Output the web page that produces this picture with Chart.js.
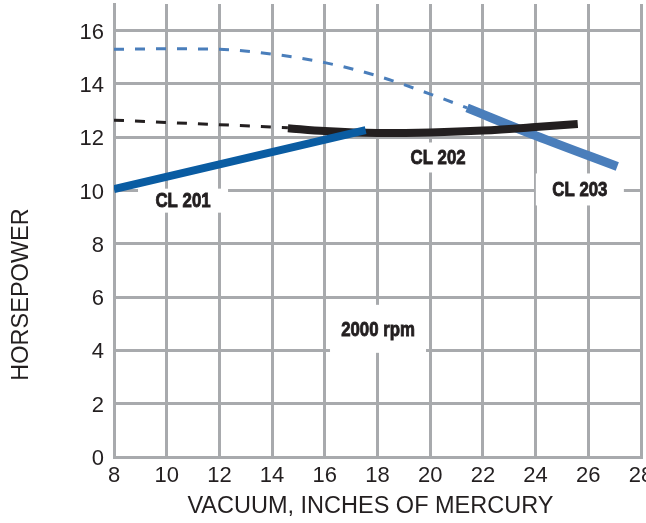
<!DOCTYPE html>
<html>
<head>
<meta charset="utf-8">
<script src="https://cdn.jsdelivr.net/npm/chart.js@4"></script>
<style>
html, body { margin: 0; padding: 0; background: #fff; }
</style>
</head>
<body>
<canvas id="c" width="646" height="523"></canvas>
<script>
var xTicks = [8, 10, 12, 14, 16, 18, 20, 22, 24, 26, 28]
var yTicks = [0, 2, 4, 6, 8, 10, 12, 14, 16]

// CL 201
var cl201X = [8, 17.55]
var cl201Y = [10.05, 12.27]

// CL 202 (solid part and dashed extension)
var cl202X = [14.6, 16, 18, 20, 22, 24, 25.6]
var cl202Y = [12.34, 12.23, 12.16, 12.18, 12.25, 12.38, 12.5]
var cl202DashX = [8, 14.6]
var cl202DashY = [12.64, 12.36]

// CL 203 (solid part and dashed extension)
var cl203X = [21.4, 24, 27.1]
var cl203Y = [13.1, 12.06, 10.9]
var cl203DashX = [8, 10, 12, 14, 16, 18, 20, 21.4]
var cl203DashY = [15.3, 15.32, 15.3, 15.12, 14.8, 14.3, 13.62, 13.1]

// text labels inside the plot
var noteText = ['CL 201', 'CL 202', 'CL 203', '2000 rpm']
var noteX = [10.62, 20.3, 25.68, 18.02]
var noteY = [9.62, 11.24, 10.04, 4.81]

var INK = '#231f20'
var GRID = '#a8aaad'
var FONT = '"Liberation Sans", Arial, sans-serif'

function pts(xs, ys) {
    return xs.map((x, i) => ({ x: x, y: ys[i] }))
}

function line(label, xs, ys, color, width, dash, order) {
    return {
        label: label,
        data: pts(xs, ys),
        borderColor: color,
        borderWidth: width,
        borderDash: dash,
        pointRadius: 0,
        cubicInterpolationMode: 'monotone',
        fill: false,
        order: order
    }
}

var notes = {
    id: 'notes',
    beforeDatasetsDraw(chart) {
        var ctx = chart.ctx
        var sx = chart.scales.x, sy = chart.scales.y
        var boxW = [90, 80, 88, 96], boxH = [24, 30, 32, 48]
        ctx.save()
        ctx.font = 'bold 21px ' + FONT
        ctx.textAlign = 'center'
        ctx.textBaseline = 'middle'
        noteText.forEach((t, i) => {
            var px = sx.getPixelForValue(noteX[i])
            var py = sy.getPixelForValue(noteY[i])
            ctx.fillStyle = '#fff'
            ctx.fillRect(px - boxW[i] / 2, py - boxH[i] / 2, boxW[i], boxH[i])
            // squeeze the bold face to look like the condensed heavy lettering
            ctx.save()
            ctx.translate(px, py)
            ctx.scale(0.8, 1)
            ctx.fillStyle = INK
            ctx.strokeStyle = INK
            ctx.lineWidth = 0.9
            ctx.fillText(t, 0, 1)
            ctx.strokeText(t, 0, 1)
            ctx.restore()
        })
        ctx.restore()
    },
    afterDraw(chart) {
        var ctx = chart.ctx
        var sx = chart.scales.x, sy = chart.scales.y
        ctx.save()
        ctx.font = '23.5px ' + FONT
        ctx.fillStyle = INK
        ctx.textAlign = 'center'
        ctx.textBaseline = 'middle'
        ctx.fillText('VACUUM, INCHES OF MERCURY', sx.getPixelForValue(17.73), 507)
        ctx.translate(22, sy.getPixelForValue(6.1))
        ctx.rotate(-Math.PI / 2)
        ctx.fillText('HORSEPOWER', 0, 0)
        ctx.restore()
    }
}

var tickFont = { family: FONT, size: 22 }

var myChart = new Chart(document.getElementById('c').getContext('2d'), {
    type: 'line',
    data: {
        datasets: [
            line('CL 201', cl201X, cl201Y, '#0a5ca2', 8, [], 0),
            line('CL 202', cl202X, cl202Y, INK, 8, [], 1),
            line('CL 203', cl203X, cl203Y, '#4a7ebb', 9, [], 2),
            line('CL 202 ext', cl202DashX, cl202DashY, INK, 3, [10, 11], 3),
            line('CL 203 ext', cl203DashX, cl203DashY, '#4a7ebb', 3, [10, 11], 4)
        ]
    },
    plugins: [notes],
    options: {
        responsive: false,
        animation: false,
        layout: { padding: { top: 4, right: 5, left: 0, bottom: 0 } },
        plugins: { legend: { display: false }, tooltip: { enabled: false } },
        scales: {
            x: {
                type: 'linear',
                min: 8,
                max: 28,
                afterBuildTicks: s => { s.ticks = xTicks.map(v => ({ value: v })) },
                afterFit: s => { s.height = 66; s.paddingLeft = 0; s.paddingRight = 0 },
                grid: { color: GRID, lineWidth: 3, drawTicks: false },
                border: { color: GRID, width: 3 },
                ticks: { font: tickFont, color: INK, padding: 6, autoSkip: false, maxRotation: 0 }
            },
            y: {
                type: 'linear',
                min: 0,
                max: 17,
                afterBuildTicks: s => { s.ticks = yTicks.map(v => ({ value: v })) },
                afterFit: s => { s.width = 114; s.paddingTop = 0; s.paddingBottom = 0 },
                grid: { color: GRID, lineWidth: 3, drawTicks: false },
                border: { color: GRID, width: 3 },
                ticks: { font: tickFont, color: INK, padding: 10, labelOffset: 2 }
            }
        }
    }
})
</script>
</body>
</html>
